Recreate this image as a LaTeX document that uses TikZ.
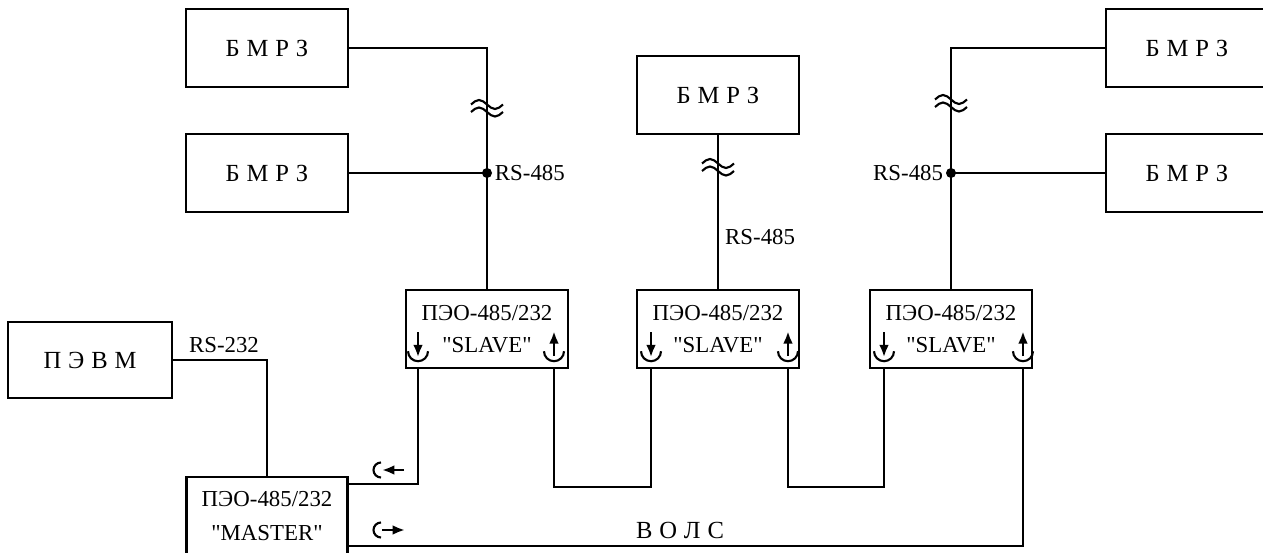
\documentclass[tikz,border=0pt]{standalone}
\usepackage{fontspec}
\setmainfont{Liberation Serif}
\usetikzlibrary{positioning,arrows.meta}
\newcommand{\wsp}{\hspace{.28em}}
\newcommand{\qt}[1]{\textquotedbl#1\textquotedbl}
\tikzset{
  blk/.style={draw,line width=1.4pt,minimum width=3.24cm,minimum height=1.56cm,inner sep=0pt,align=center},
  wide/.style={font=\fontsize{14}{17}\selectfont},
  wire/.style={line width=1.4pt},
  tip/.style={line width=1.5pt,-{Latex[length=7pt,width=5.5pt]}},
  rxport/.pic={
    \draw[line width=1.2pt] (-0.2cm,0.36cm) arc[start angle=180,end angle=360,radius=0.2cm];
    \draw[tip] (0cm,0.74cm) -- (0cm,0.24cm);
  },
  txport/.pic={
    \draw[line width=1.2pt] (-0.2cm,0.36cm) arc[start angle=180,end angle=360,radius=0.2cm];
    \draw[tip] (0cm,0.26cm) -- (0cm,0.76cm);
  },
  inport/.pic={
    \draw[line width=1.2pt] (0cm,0.15cm) arc[start angle=90,end angle=270,radius=0.15cm];
    \draw[tip] (0.46cm,0cm) -- (0.02cm,0cm);
  },
  outport/.pic={
    \draw[line width=1.2pt] (0cm,0.15cm) arc[start angle=90,end angle=270,radius=0.15cm];
    \draw[tip] (0.02cm,0cm) -- (0.48cm,0cm);
  },
  brk/.pic={
    \draw[line width=1.2pt] (-0.32cm,0.07cm) sin (-0.16cm,0.16cm) cos (0cm,0.07cm) sin (0.16cm,-0.02cm) cos (0.32cm,0.07cm);
    \draw[line width=1.2pt] (-0.32cm,-0.08cm) sin (-0.16cm,0.01cm) cos (0cm,-0.08cm) sin (0.16cm,-0.17cm) cos (0.32cm,-0.08cm);
  }
}

\begin{document}
\begin{tikzpicture}[x=0.02cm,y=-0.02cm,font=\fontsize{13}{17}\selectfont]
  \useasboundingbox (0,0) rectangle (1263,553);
  % relay blocks
  \node[blk,wide] (bmrzA) at (267,48) {Б\wsp М\wsp Р\wsp З};
  \node[blk,wide] (bmrzB) at (267,173) {Б\wsp М\wsp Р\wsp З};
  \node[blk,wide] (bmrzC) at (718,95) {Б\wsp М\wsp Р\wsp З};
  \node[blk,wide] (bmrzD) at (1187,48) {Б\wsp М\wsp Р\wsp З};
  \node[blk,wide] (bmrzE) at (1187,173) {Б\wsp М\wsp Р\wsp З};
  % converters and pc
  \node[blk] (slaveA) at (487,329) {ПЭО-485/232\\[1pt]\qt{SLAVE}};
  \node[blk] (slaveB) at (718,329) {ПЭО-485/232\\[1pt]\qt{SLAVE}};
  \node[blk] (slaveC) at (951,329) {ПЭО-485/232\\[1pt]\qt{SLAVE}};
  \node[blk,wide,minimum width=3.28cm,minimum height=1.52cm] (pevm) at (90,360) {П\wsp Э\wsp В\wsp М};
  \node[blk,minimum width=3.22cm] (master) at (267,516) {ПЭО-485/232\\[2pt]\qt{MASTER}};

  % RS-485 lines
  \draw[wire] (bmrzA.east) -| (slaveA.north);
  \coordinate (jA) at (slaveA.north |- bmrzB.east);
  \draw[wire] (bmrzB.east) -- (jA);
  \fill (jA) circle (0.1cm);
  \draw[wire] (bmrzC.south) -- (slaveB.north);
  \draw[wire] (bmrzD.west) -| (slaveC.north);
  \coordinate (jC) at (slaveC.north |- bmrzE.west);
  \draw[wire] (bmrzE.west) -- (jC);
  \fill (jC) circle (0.1cm);
  \pic at (487,108) {brk};
  \pic at (718,167) {brk};
  \pic at (951,103) {brk};
  \node[right=1pt of jA] (rsA) {RS-485};
  \node[left=1pt of jC] (rsC) {RS-485};
  \node[anchor=west] (rsB) at (719,237) {RS-485};

  % RS-232
  \draw[wire] (pevm.east) -| (master.north);
  \node (rs232) at (224,345) {RS-232};

  % optical ring
  \coordinate (rxA) at ([xshift=-1.38cm]slaveA.south);
  \coordinate (txA) at ([xshift=1.34cm]slaveA.south);
  \coordinate (rxB) at ([xshift=-1.34cm]slaveB.south);
  \coordinate (txB) at ([xshift=1.4cm]slaveB.south);
  \coordinate (rxC) at ([xshift=-1.34cm]slaveC.south);
  \coordinate (txC) at ([xshift=1.44cm]slaveC.south);
  \draw[wire] ([yshift=-0.16cm]master.north east) -| (rxA);
  \draw[wire] (txA) -- ++(0,118) -| (rxB);
  \draw[wire] (txB) -- ++(0,118) -| (rxC);
  \draw[wire] (txC) |- ([yshift=-0.6cm]master.east);
  \foreach \p in {A,B,C} {
    \pic at (rx\p) {rxport};
    \pic at (tx\p) {txport};
  }
  \pic at (381,470) {inport};
  \pic at (381,530) {outport};
  \node[wide] (vols) at (680,530) {В\wsp О\wsp Л\wsp С};
\end{tikzpicture}
\end{document}
